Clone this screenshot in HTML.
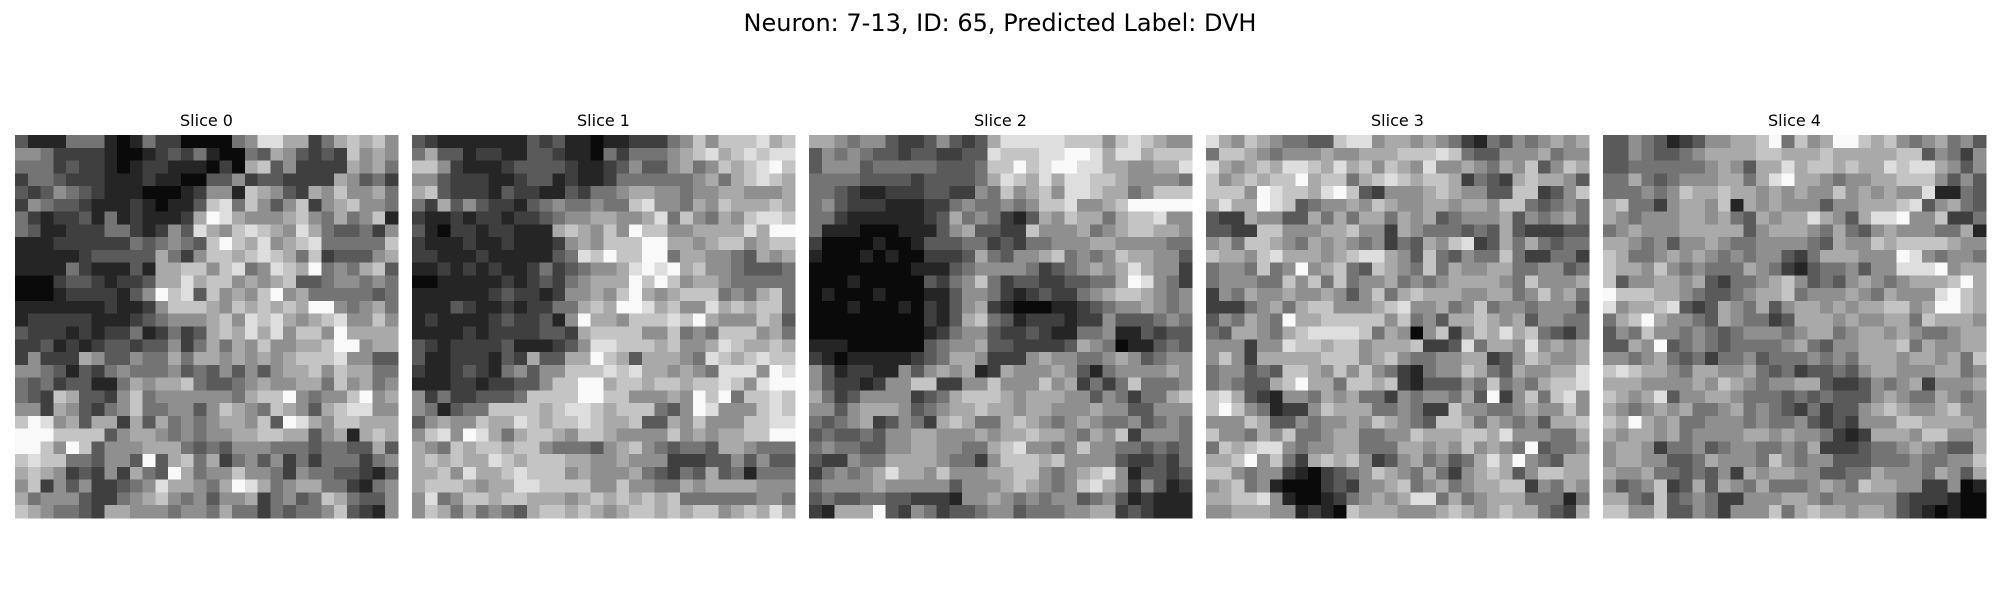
<!DOCTYPE html>
<html><head><meta charset="utf-8"><style>
html,body{margin:0;padding:0;background:#fff;width:2000px;height:600px;overflow:hidden}
svg{display:block}
text{font-family:"DejaVu Sans","Liberation Sans",sans-serif;fill:#000}
</style></head><body>
<svg id="chart" width="2000" height="600" viewBox="0 0 2000 600">
<text x="1000" y="31" text-anchor="middle" font-size="24">Neuron: 7-13, ID: 65, Predicted Label: DVH</text>
<g id="panels"></g>
</svg>
<script>
const sliceTitles = ["Slice 0","Slice 1","Slice 2","Slice 3","Slice 4"];
const slice0 = ["311144410142200004588662467675","554222210012324100436532327565","444232210122111020673522226564","244322211121100335233222265342","323543211100012551765326575564","254332111210113784753572567554","421223141211126986555675464571","431122244212538657876586433425","111222222434543797685678444447","111112333336425776787647233356","111142111316677578458769454673","000233212236686775656733455454","000122221359783756579564444434","111111121125777657676769954564","122222111234555675878656785575","322212122412423676868577596666","223121233233524646575566799566","252226533544646656565677785533","554313245444534353535667576644","434233114656674334565566475645","432763325745555554677954557956","552653245744553576547653678855","798563662636454566573986577666","999777735665454556677663561676","997597355566643435554443443363","787744355393674624535242444245","676523252643964557554254433213","572535223458665469864566442145","645553224567545355624534764335","765443266555455464424344573215"];
const slice1 = ["321111111323110112224575777867","463312211332110424445678678788","775211123333211235335645767897","553222112331211244444456467876","673222132211324456655455665556","426353221345445447855465766676","211212212234556655684754657887","310221221116765759775566668699","211121121112565777996656775677","221112111113487977994665543656","112121211242345568989675543334","001111121232456669797566544444","111111232212556579656777454674","111321121224467699867558676774","121111232231596657778796555763","111121222233267777557454777564","321222231112358877767556876676","311222132633669763666548767877","211232145355777878665654888598","111221223357799677677677875899","524223334777799775556597947787","541344777767887677743598555787","356557668767787667336575557788","578598646776577655557565667799","654767767754443567543443665444","676766876777665565552223353533","667586678777565556432436341444","677765668877775575544656666555","584577677666567676767444444554","576464543677676567767677567686"];
const slice2 = ["665455322353236888887775787655","354543323322338777889986886777","355534444433347797899886655668","444433332333346876868877655554","443211222332254756758876645777","453222111224544545778556799999","442111111236454213657664677855","411100011135633227555645677665","200001001333442324455566555544","100010100222364355674545766553","000000001113455554234565686552","000100000324574233223344698542","010001000113554212322456776545","000100010213562100011234556545","000000000213674312221225333454","000000000124553223211445113233","111000000345563322223654011343","210111112346652225655445653455","531221153565612655565314555565","532212557722557555756242474445","642355552346777656665535424467","553566653456676656655565533555","434562354267644676545654453454","343343556655565667665465725554","454433556655446785545755443434","322544666654425777675555322324","245456866575556677545678513323","455556555553555676545786525312","343344332221556545455345312111","216669325423345534445566232111"];
const slice3 = ["865765443378856656542143545656","477654555655666777874335556455","865676887686757658556546573576","756767796774678767762432676653","777598776897325556765533772357","686698734556576556656657743454","322655336464664656345556354564","332277555667552654443436322233","564776546565452436578236464344","766578666567886537435447422442","455474595674376547465566445534","455544757474556454566665475556","254655655653574676665566457564","222456467755567855645745545553","354654966777775745366765635544","436654678888746505725768674324","555255877677566672238466585656","575266666777567544556623576556","455343776575754214557643655668","454336796647767213335474546778","786321554656442545546392574785","797541225766644542275544565575","555763354556576543776465453667","755465744566445576667768555446","476788545566444665657565493445","667957426767523564534686954366","775455210234576546425676357766","567451000232556745645667725465","667785100124565688464566644414","556665512107666555676567664326"];
const slice4 = ["335431235566794756997675456453","335433456666776667666667735425","334444445653668677676687886535","446434555664689665455667775353","444545766766565655756565581143","674425665716565553556667835643","654555665643656686536889557224","456555666663566654643565554461","665453556544555543655767777655","764456565454553246665559854554","766575454446542134453558889566","735566563244567534356545666796","977766543345667455565465558976","856678323654635665656677569976","467965543654423666565566476665","354755454345554566456656544566","336593454344445643556667465566","554564342445344454546665665647","787665466556434233435665556645","666555565765455663223545625556","765683556654443434333565446545","654565644564543242335676556755","769656445554544532325557766665","656656455556656554212666577556","566524453455445462223445654336","566553346555475455333444544557","655644343526566553344655546536","534572363654644456547665522501","664373454225556654555553222100","775573354255574676656653210100"];
const slices = [slice0, slice1, slice2, slice3, slice4];

const NS = "http://www.w3.org/2000/svg";
const panelX = i => 15 + i * 397;
const panelY = 135, panelSize = 383;
const cell = panelSize / 30;
const colorScale = v => { const g = Math.round(10 + v * 26.5); return `rgb(${g},${g},${g})`; };
const root = document.getElementById('panels');
slices.forEach((rows, i) => {
  const g = document.createElementNS(NS, 'g');
  
  
  const t = document.createElementNS(NS, 'text');
  
  
  t.setAttribute('x', panelX(i) + panelSize / 2);
  t.setAttribute('y', 126);
  t.setAttribute('text-anchor', 'middle');
  t.setAttribute('font-size', '16');
  t.textContent = sliceTitles[i];
  g.appendChild(t);
  rows.forEach((row, r) => {
    for (let c = 0; c < row.length; c++) {
      const rect = document.createElementNS(NS, 'rect');
      
      
      const x0 = panelX(i) + c * cell, y0 = panelY + r * cell;
      rect.setAttribute('x', x0.toFixed(2));
      rect.setAttribute('y', y0.toFixed(2));
      rect.setAttribute('width', (cell + 0.4).toFixed(2));
      rect.setAttribute('height', (cell + 0.4).toFixed(2));
      rect.setAttribute('fill', colorScale(+row[c]));
      rect.setAttribute('shape-rendering', 'crispEdges');
      g.appendChild(rect);
    }
  });
  root.appendChild(g);
});
</script>
</body></html>
